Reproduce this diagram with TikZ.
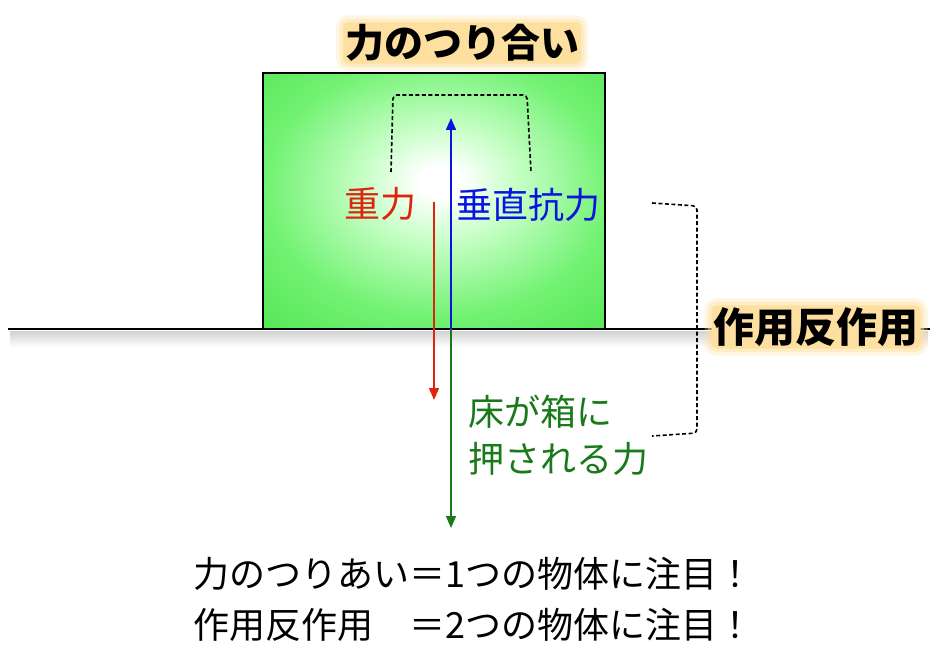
\documentclass[tikz,border=0pt]{standalone}
\usepackage{fontspec}
\setmainfont{Noto Sans CJK JP}
\usetikzlibrary{arrows.meta}

\definecolor{glowcore}{RGB}{253,224,160}
\definecolor{boxlight}{RGB}{200,255,200}
\definecolor{boxmid}{RGB}{115,242,115}
\definecolor{boxdeep}{RGB}{60,220,60}
\definecolor{boxedge}{RGB}{20,188,20}
\definecolor{forcered}{RGB}{222,35,15}
\definecolor{forceblue}{RGB}{10,20,225}
\definecolor{forcegreen}{RGB}{25,122,25}

\pgfdeclareradialshading{boxglow}{\pgfpoint{1bp}{4bp}}{color(0bp)=(white); color(3bp)=(white); color(11bp)=(boxlight); color(25bp)=(boxmid); color(48bp)=(boxdeep); color(71bp)=(boxedge)}

\tikzset{
  jptext/.style={inner sep=0pt, font=\fontsize{36}{40}\selectfont},
  headline/.style={font=\bfseries\fontsize{39}{42}\selectfont, fill=glowcore, rounded corners=5pt, inner sep=2pt,
    preaction={draw=glowcore, draw opacity=0.3, line width=14pt},
    preaction={draw=glowcore, draw opacity=0.45, line width=7pt}},
  force/.style={line width=1.5pt, -{Triangle[length=12pt,width=10pt]}},
  bracket/.style={line width=1.6pt, dash pattern=on 4pt off 2.5pt, rounded corners=4pt}
}

\begin{document}
\begin{tikzpicture}[x=1pt,y=-1pt]
    \useasboundingbox (0,0) rectangle (945,671);

    % Box
    \node (box) [draw, line width=2pt, shade, shading=boxglow, minimum width=342pt, minimum height=256pt, inner sep=0pt] at (434,201) {};

    % Floor
    \shade[top color=black!18, bottom color=white] (10,331) rectangle (928,347);
    \draw[line width=2pt] (8,329) -- (930,329);

    % Headlines
    \node (title) [headline] at (462,43) {力のつり合い};
    \node (pair) [headline, font=\bfseries\fontsize{41}{44}\selectfont] at (816,327) {作用反作用};

    % Forces
    \coordinate (foot) at (451,329);
    \coordinate (normaltip) at (451,118);
    \coordinate (floortip) at (451,528);
    \coordinate (weighttail) at (434,202);
    \coordinate (weighttip) at (434,400);
    \draw[force, forceblue] (foot) -- (normaltip);
    \draw[force, forcegreen] (foot) -- (floortip);
    \draw[force, forcered] (weighttail) -- (weighttip);

    \node (weight) [jptext, forcered] at (380,204) {重力};
    \node (normal) [jptext, forceblue] at (528,205) {垂直抗力};
    \node (floor1) [jptext, forcegreen, anchor=west] at (468,412) {床が箱に};
    \node (floor2) [jptext, forcegreen, anchor=west] at (468,459) {押される力};

    % Dashed brackets
    \draw[bracket] (391,172) -- (393,95) -- (527,95) -- (531,172);
    \draw[bracket] (652,203) -- (697,206) -- (697,433) -- (652,436);

    % Notes
    \node (note1) [jptext, anchor=west] at (193,574) {力のつりあい＝1つの物体に注目！};
    \node (note2) [jptext, anchor=west] at (193,625) {作用反作用\hspace{36pt}＝2つの物体に注目！};
\end{tikzpicture}
\end{document}
